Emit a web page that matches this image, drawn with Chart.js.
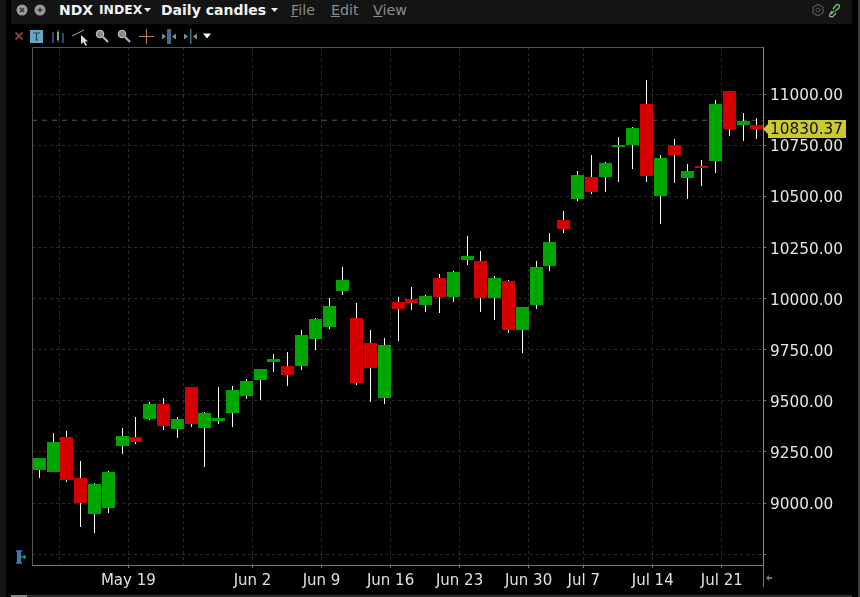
<!DOCTYPE html>
<html>
<head>
<meta charset="utf-8">
<title>NDX INDEX Daily candles</title>
<script src="https://cdn.jsdelivr.net/npm/chart.js@4/dist/chart.umd.js"></script>
<style>
    html, body { margin: 0; padding: 0; background: #000; width: 860px; height: 597px; overflow: hidden; }
    #chart { position: absolute; left: 0; top: 0; }
    .band { position: absolute; background: #141414; }
    .label { position: absolute; font-family: "DejaVu Sans", sans-serif; white-space: nowrap; line-height: 20px; top: 0; }
    .title { font-weight: bold; color: #f2f2f2; font-size: 14px; }
    .menu { color: #8c8c8c; font-size: 14.3px; }
    #icons { position: absolute; left: 0; top: 0; }
</style>
</head>
<body>
<canvas id="chart" width="860" height="597"></canvas>

<div class="band" style="left:11px;top:0;width:841px;height:24px"></div>
<div class="band" style="left:0;top:0;width:6px;height:597px"></div>
<div class="band" style="left:858px;top:0;width:2px;height:597px;background:#3a3a3a"></div>
<div class="band" style="left:11px;top:595px;width:841px;height:2px;background:#2c2c2c"></div>
<div class="band" style="left:11px;top:595px;width:16px;height:2px;background:#8a8a8a"></div>

<span class="label title" style="left:59px">NDX</span>
<span class="label title" style="left:99px;font-size:12.4px">INDEX</span>
<span class="label title" style="left:161px">Daily candles</span>
<span class="label menu" style="left:291px"><u>F</u>ile</span>
<span class="label menu" style="left:331px"><u>E</u>dit</span>
<span class="label menu" style="left:373px"><u>V</u>iew</span>

<svg id="icons" width="860" height="597">
    <!-- window buttons -->
    <circle cx="22" cy="10" r="5.5" fill="#9a9a9a"/>
    <path d="M20 8l4 4M24 8l-4 4" stroke="#333" stroke-width="1.4"/>
    <circle cx="40" cy="10" r="5.5" fill="#9a9a9a"/>
    <path d="M37.5 10h5M40 7.5v5" stroke="#333" stroke-width="1.4"/>
    <!-- title carets -->
    <path d="M144 8h7l-3.5 4z" fill="#eee"/>
    <path d="M271 8h7l-3.5 4z" fill="#eee"/>
    <!-- settings and link -->
    <path d="M818 4.5l5 2.8v5.6l-5 2.8l-5-2.8v-5.6z" fill="none" stroke="#555" stroke-width="1.2"/>
    <circle cx="818" cy="10" r="2" fill="none" stroke="#555"/>
    <path d="M831 14l3-3M833 9l3-4q2-1 3 0t0 3l-4 3M832 11l-2 3q-1 2 0 2.5t3 0l3-3.5" fill="none" stroke="#66cc66" stroke-width="1.3"/>
    <!-- chart toolbar -->
    <path d="M15.5 32.5l7 7M22.5 32.5l-7 7" stroke="#8a3a34" stroke-width="2"/>
    <rect x="30" y="30" width="13" height="13" fill="#6aa3c8"/>
    <path d="M33 33h7M36.5 33v7M35 40h3" stroke="#23435a" stroke-width="1.2" fill="none"/>
    <path d="M53 32v11M58 30v12M63 33v10" stroke="#3c5fa0" stroke-width="1.5"/>
    <path d="M58 32v8" stroke="#5fc26f" stroke-width="2"/>
    <path d="M72 36l12-6" stroke="#aaa" stroke-width="1"/>
    <path d="M81 35v9l2.5-2l2 4l1.5-1l-2-3.5h3z" fill="#ddd"/>
    <circle cx="100" cy="34" r="3.8" fill="#888" stroke="#ccc"/>
    <path d="M103 37l5 5" stroke="#bbb" stroke-width="2"/>
    <circle cx="122" cy="34" r="3.8" fill="#888" stroke="#ccc"/>
    <path d="M125 37l5 5" stroke="#bbb" stroke-width="2"/>
    <path d="M139 36.5h15M146.5 29v15" stroke="#b5834f" stroke-width="1"/>
    <rect x="167" y="29" width="4" height="15" fill="#3e6c8c"/>
    <path d="M166 36.5l-4-3v6zM172 36.5l4-3v6z" fill="#6d9d7a"/>
    <rect x="190" y="29" width="1.5" height="15" fill="#3e6c8c"/>
    <path d="M184 33.5l4 3l-4 3zM197 33.5l-4 3l4 3z" fill="#6d9d7a"/>
    <path d="M203 33.5h8l-4 5z" fill="#fff"/>
    <!-- lower left marker and lower right axis stub -->
    <rect x="17" y="551" width="4" height="12" fill="#2f7fb8"/>
    <path d="M16 551h6M16 563h6" stroke="#2f7fb8" stroke-width="1.4"/>
    <path d="M21 557h5M24.5 555v4" stroke="#14a050" stroke-width="1.6"/>
    <path d="M763.5 565v22" stroke="#777" stroke-width="1"/>
    <path d="M766 578l3-3v2h3v2h-3v2z" fill="#777"/>
</svg>

<script>
// One entry per trading session, oldest first
const sessions = ['May 8', 'May 11', 'May 12', 'May 13', 'May 14', 'May 15', 'May 18', 'May 19', 'May 20', 'May 21', 'May 22', 'May 26', 'May 27', 'May 28', 'May 29', 'Jun 1', 'Jun 2', 'Jun 3', 'Jun 4', 'Jun 5', 'Jun 8', 'Jun 9', 'Jun 10', 'Jun 11', 'Jun 12', 'Jun 15', 'Jun 16', 'Jun 17', 'Jun 18', 'Jun 19', 'Jun 22', 'Jun 23', 'Jun 24', 'Jun 25', 'Jun 26', 'Jun 29', 'Jun 30', 'Jul 1', 'Jul 2', 'Jul 6', 'Jul 7', 'Jul 8', 'Jul 9', 'Jul 10', 'Jul 13', 'Jul 14', 'Jul 15', 'Jul 16', 'Jul 17', 'Jul 20', 'Jul 21', 'Jul 22', 'Jul 23'];
const opens = [9162, 9152, 9323, 9123, 8946, 8976, 9279, 9323, 9411, 9485, 9362, 9568, 9367, 9401, 9441, 9524, 9602, 9690, 9670, 9670, 9803, 9861, 10037, 9905, 9783, 9514, 9984, 9998, 9969, 10101, 10008, 10189, 10184, 10003, 10087, 9847, 9969, 10160, 10385, 10488, 10595, 10595, 10742, 10752, 10953, 10503, 10752, 10591, 10649, 10674, 11016, 10850, 10850];
const closes = [9220, 9299, 9113, 9000, 9093, 9152, 9328, 9299, 9485, 9377, 9411, 9387, 9441, 9416, 9553, 9597, 9656, 9705, 9626, 9822, 9900, 9964, 10091, 9587, 9661, 9773, 9949, 9979, 10013, 10008, 10130, 10209, 10003, 10101, 9847, 9959, 10155, 10277, 10341, 10605, 10522, 10664, 10752, 10835, 10600, 10689, 10703, 10625, 10640, 10953, 10830, 10870, 10830.37];
const highs = [9220, 9343, 9352, 9206, 9098, 9157, 9367, 9421, 9494, 9514, 9421, 9568, 9445, 9568, 9573, 9607, 9656, 9729, 9739, 9847, 9905, 10003, 10155, 9979, 9847, 9807, 10008, 10057, 10018, 10121, 10135, 10307, 10233, 10111, 10091, 9959, 10184, 10321, 10429, 10625, 10703, 10669, 10791, 10840, 11070, 10703, 10781, 10659, 10679, 10972, 11016, 10909, 10884];
const lows = [9123, 9152, 9103, 8883, 8853, 8951, 9240, 9289, 9406, 9357, 9318, 9372, 9176, 9387, 9372, 9509, 9504, 9641, 9573, 9651, 9749, 9851, 10018, 9577, 9494, 9484, 9793, 9944, 9935, 9930, 9984, 10165, 9935, 9896, 9832, 9734, 9950, 10135, 10321, 10478, 10512, 10522, 10571, 10635, 10571, 10366, 10566, 10488, 10551, 10615, 10796, 10772, 10781];

const weekStarts = ['May 12', 'May 19', 'May 26', 'Jun 2', 'Jun 9', 'Jun 16', 'Jun 23', 'Jun 30', 'Jul 7', 'Jul 14', 'Jul 21'];
const hiddenWeekLabels = ['May 12', 'May 26'];
const priceTicks = [8750, 9000, 9250, 9500, 9750, 10000, 10250, 10500, 10750, 11000];
const priorLevel = 10873;
const lastPrice = closes[closes.length - 1];

const GREEN = '#00a600';
const RED = '#d40000';
const FONT = '"DejaVu Sans", sans-serif';
const X_MIN = -0.529;
const X_MAX = 52.44;

// Bars land on fractional pixels, snap them so the candles stay crisp
const crispBars = {
    id: 'crispBars',
    afterDatasetsUpdate(chart) {
        chart.getSortedVisibleDatasetMetas().forEach((meta) => {
            if (meta.type !== 'bar') return;
            meta.data.forEach((bar) => {
                bar.x = Math.floor(bar.x) + 0.5;
                bar.width = Math.round(bar.width);
                bar.y = Math.round(bar.y);
                bar.base = Math.round(bar.base);
                bar.height = bar.base - bar.y;
            });
        });
    }
};

// Left and top edge of the plot, the scales only draw the other two
const plotFrame = {
    id: 'plotFrame',
    beforeDatasetsDraw(chart) {
        const { ctx, chartArea } = chart;
        ctx.save();
        ctx.strokeStyle = '#555';
        ctx.lineWidth = 1;
        ctx.beginPath();
        ctx.moveTo(Math.floor(chartArea.left) + 0.5, chartArea.bottom);
        ctx.lineTo(Math.floor(chartArea.left) + 0.5, Math.floor(chartArea.top) + 0.5);
        ctx.lineTo(chartArea.right, Math.floor(chartArea.top) + 0.5);
        ctx.stroke();
        ctx.restore();
    }
};

// Yellow tag with the last price on the right axis
const priceTag = {
    id: 'priceTag',
    afterDraw(chart) {
        const { ctx, chartArea, scales } = chart;
        const y = Math.round(scales.y.getPixelForValue(lastPrice));
        const left = chartArea.right;
        ctx.save();
        ctx.fillStyle = '#c9c933';
        ctx.beginPath();
        ctx.moveTo(left, y);
        ctx.lineTo(left + 5, y - 5);
        ctx.lineTo(left + 5, y - 9);
        ctx.lineTo(left + 83, y - 9);
        ctx.lineTo(left + 83, y + 9);
        ctx.lineTo(left + 5, y + 9);
        ctx.lineTo(left + 5, y + 5);
        ctx.closePath();
        ctx.fill();
        ctx.fillStyle = '#111';
        ctx.font = '15.3px ' + FONT;
        ctx.textBaseline = 'middle';
        ctx.fillText(lastPrice.toFixed(2), left + 7, y + 1);
        ctx.restore();
    }
};

new Chart(document.getElementById('chart'), {
    type: 'bar',
    data: {
        datasets: [
            {
                label: 'Body',
                data: sessions.map((s, i) => ({ x: i, y: [opens[i], closes[i]] })),
                backgroundColor: sessions.map((s, i) => (closes[i] >= opens[i] ? GREEN : RED)),
                grouped: false,
                categoryPercentage: 1,
                barPercentage: 0.943,
                borderWidth: 0,
                order: 1
            },
            {
                label: 'Wick',
                data: sessions.map((s, i) => ({ x: i, y: [lows[i], highs[i]] })),
                backgroundColor: '#fff',
                grouped: false,
                maxBarThickness: 1,
                borderWidth: 0,
                order: 2
            },
            {
                type: 'line',
                label: 'Level',
                data: [{ x: X_MIN, y: priorLevel }, { x: X_MAX, y: priorLevel }],
                borderColor: '#555',
                borderWidth: 1,
                borderDash: [5, 5],
                pointRadius: 0,
                order: 3
            }
        ]
    },
    plugins: [crispBars, plotFrame, priceTag],
    options: {
        responsive: false,
        animation: false,
        layout: { padding: { left: 32, top: 47, right: 0, bottom: 0 } },
        plugins: { legend: { display: false }, tooltip: { enabled: false } },
        scales: {
            x: {
                type: 'linear',
                offset: false,
                min: X_MIN,
                max: X_MAX,
                afterBuildTicks: (scale) => {
                    // Week lines sit between the two sessions around the boundary
                    scale.ticks = weekStarts.map((w) => ({ value: sessions.indexOf(w) - 0.55 }));
                },
                afterFit: (scale) => { scale.height = 32; },
                grid: {
                    color: '#2a2a2a',
                    offset: false,
                    tickLength: 3,
                    tickColor: (ctx) => (ctx.tick && ctx.tick.label ? '#777' : 'transparent')
                },
                border: { color: '#777', dash: [3, 3] },
                ticks: {
                    autoSkip: false,
                    maxRotation: 0,
                    padding: 4,
                    color: '#e0e0e0',
                    font: { family: FONT, size: 15 },
                    callback: (value, i) => (hiddenWeekLabels.includes(weekStarts[i]) ? '' : weekStarts[i])
                }
            },
            y: {
                position: 'right',
                min: 8697,
                max: 11231.4,
                afterBuildTicks: (scale) => {
                    scale.ticks = priceTicks.map((p) => ({ value: p }));
                },
                afterFit: (scale) => { scale.width = 97; },
                grid: { color: '#2a2a2a', tickLength: 3, tickColor: '#777' },
                border: { color: '#8a8a8a', dash: [3, 3] },
                ticks: {
                    padding: 4,
                    labelOffset: 2,
                    color: '#e6e6e6',
                    font: { family: FONT, size: 15.3 },
                    // the lowest line carries no price in the terminal
                    callback: (value) => (value >= 9000 ? value.toFixed(2) : '')
                }
            }
        }
    }
});
</script>
</body>
</html>
